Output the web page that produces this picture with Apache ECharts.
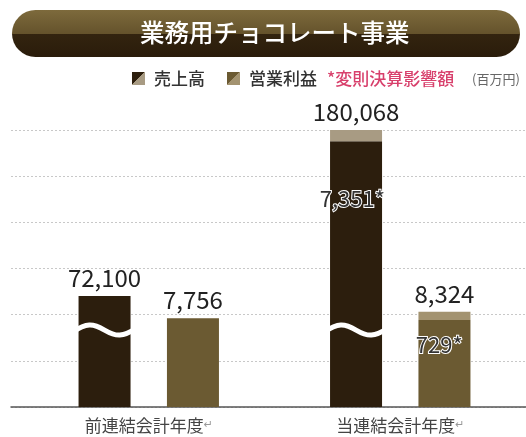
<!DOCTYPE html>
<html><head><meta charset="utf-8">
<script src="https://cdn.jsdelivr.net/npm/echarts@6/dist/echarts.min.js"></script>
<style>html,body{margin:0;padding:0;background:#fff}#c{width:526px;height:437px}</style>
</head><body><div id="c"></div>
<script>
// ---- data ----
const categories = ['前連結会計年度', '当連結会計年度'];
const revenueTotal = [72100, 180068];
const revenueAdj = [0, 7351];
const profitTotal = [7756, 8324];
const profitAdj = [0, 729];
const seriesNames = ['売上高', '営業利益'];
const adjName = '*変則決算影響額';
const unitText = '(百万円)';
const chartTitle = '業務用チョコレート事業';
const breakLevel = 50000; // revenue value where the broken-axis wave is drawn

// ---- styles ----
const FONT = 'Noto Sans CJK JP';
const C_REV = '#2c1e0d', C_REV_L = '#a89b83', C_PRO = '#6b5a32', C_PRO_L = '#a39370';
const BAR_W = 52, GAP = 0.7;
const fmt = v => v.toLocaleString('en-US');

const chart = echarts.init(document.getElementById('c'));
const diag = (a, b) => new echarts.graphic.LinearGradient(0, 0, 1, 1, [
  {offset: 0, color: a}, {offset: 0.5, color: a}, {offset: 0.5, color: b}, {offset: 1, color: b}]);

const valueLabel = {fontFamily: FONT, fontSize: 24, color: '#222'};
const adjLabel = {fontFamily: FONT, fontSize: 22, color: '#333', textBorderColor: '#fff', textBorderWidth: 2};

chart.setOption({
  animation: false,
  backgroundColor: '#fff',
  graphic: [{
    type: 'rect', left: 12, top: 10, z: 0,
    shape: {width: 508, height: 47, r: 23.5},
    style: {fill: new echarts.graphic.LinearGradient(0, 0, 0, 1, [
      {offset: 0, color: '#7d6a3c'}, {offset: 0.5, color: '#65532c'},
      {offset: 0.5, color: '#33240f'}, {offset: 1, color: '#2a1c0b'}])}
  }],
  title: [
    {text: chartTitle, left: 135, top: 15, textStyle: {fontFamily: FONT, fontSize: 24.5, fontWeight: 500, color: '#fff'}},
    {text: adjName, left: 322, top: 65, textStyle: {fontFamily: FONT, fontSize: 17, fontWeight: 500, color: '#d8406c'}},
    {text: unitText, left: 467, top: 68, textStyle: {fontFamily: FONT, fontSize: 13, fontWeight: 'normal', color: '#666'}}
  ],
  legend: {
    left: 127, top: 65, icon: 'rect', itemWidth: 13, itemHeight: 13, itemGap: 22,
    textStyle: {fontFamily: FONT, fontSize: 17, fontWeight: 500, color: '#333', padding: [0, 0, 0, 4]},
    data: [
      {name: seriesNames[0], itemStyle: {color: diag(C_REV, C_REV_L)}},
      {name: seriesNames[1], itemStyle: {color: diag(C_PRO, C_PRO_L)}}
    ]
  },
  grid: [
    {left: 11, right: 0, top: 130, bottom: 30},
    {left: 23, right: -5, top: 130, bottom: 30}
  ],
  xAxis: [
    {gridIndex: 0, type: 'value', min: 0, max: 1, axisLabel: {show: false}, axisTick: {show: false}, splitLine: {show: false},
     axisLine: {show: true, lineStyle: {color: '#555', width: 1.5}}},
    {gridIndex: 1, type: 'category', data: categories, axisLine: {show: false}, axisTick: {show: false},
     axisLabel: {margin: 10, fontFamily: FONT, fontSize: 17, color: '#444',
       formatter: v => v + '{ret|↵}', rich: {ret: {fontSize: 11, color: '#999', fontFamily: 'DejaVu Sans'}}}}
  ],
  yAxis: [
    {gridIndex: 0, type: 'value', min: 0, max: 6, interval: 1, axisLabel: {show: false}, axisLine: {show: false}, axisTick: {show: false},
     splitLine: {show: true, lineStyle: {color: '#c8c8c8', type: [2, 2], width: 1}}},
    {gridIndex: 1, type: 'value', min: 0, max: Math.max(...revenueTotal), show: false, splitLine: {show: false}},
    {gridIndex: 1, type: 'value', min: 0, max: 24200, show: false, splitLine: {show: false}}
  ],
  series: [
    {name: seriesNames[0], type: 'bar', xAxisIndex: 1, yAxisIndex: 1, stack: 'rev', barWidth: BAR_W, barGap: GAP * 100 + '%',
     itemStyle: {color: C_REV},
     data: revenueTotal.map((t, i) => ({value: t - revenueAdj[i],
       label: {show: revenueAdj[i] > 0, position: ['43%', 57], align: 'center', verticalAlign: 'middle',
               formatter: fmt(revenueAdj[i]) + '*', ...adjLabel}}))},
    {name: seriesNames[0] + adjName, type: 'bar', xAxisIndex: 1, yAxisIndex: 1, stack: 'rev', barWidth: BAR_W,
     itemStyle: {color: C_REV_L},
     label: {show: true, position: 'top', distance: 6, formatter: p => fmt(revenueTotal[p.dataIndex]), ...valueLabel},
     data: revenueAdj},
    {name: seriesNames[1], type: 'bar', xAxisIndex: 1, yAxisIndex: 2, stack: 'pro', barWidth: BAR_W,
     itemStyle: {color: C_PRO},
     data: profitTotal.map((t, i) => ({value: t - profitAdj[i],
       label: {show: profitAdj[i] > 0, position: ['40%', 25], align: 'center', verticalAlign: 'middle',
               formatter: fmt(profitAdj[i]) + '*', ...adjLabel}}))},
    {name: seriesNames[1] + adjName, type: 'bar', xAxisIndex: 1, yAxisIndex: 2, stack: 'pro', barWidth: BAR_W, barGap: GAP * 100 + '%',
     itemStyle: {color: C_PRO_L},
     label: {show: true, position: 'top', distance: 6, formatter: p => fmt(profitTotal[p.dataIndex]), ...valueLabel},
     data: profitAdj},
    {name: 'break', type: 'custom', xAxisIndex: 1, yAxisIndex: 1, z: 5, silent: true,
     data: categories.map((c, i) => [i, breakLevel]),
     renderItem: (params, api) => {
       const p = api.coord([api.value(0), api.value(1)]);
       const cx = p[0] - BAR_W * (1 + GAP) / 2, y = p[1];
       const x0 = cx - 32, x1 = cx + 32;
       return {type: 'path', shape: {pathData:
         `M${x0},${y + 2} C${x0 + 14},${y - 7} ${cx - 12},${y - 7} ${cx},${y} S${x1 - 14},${y + 7} ${x1},${y - 2}`},
         style: {fill: 'none', stroke: '#fff', lineWidth: 5}};
     }}
  ]
});
</script></body></html>
